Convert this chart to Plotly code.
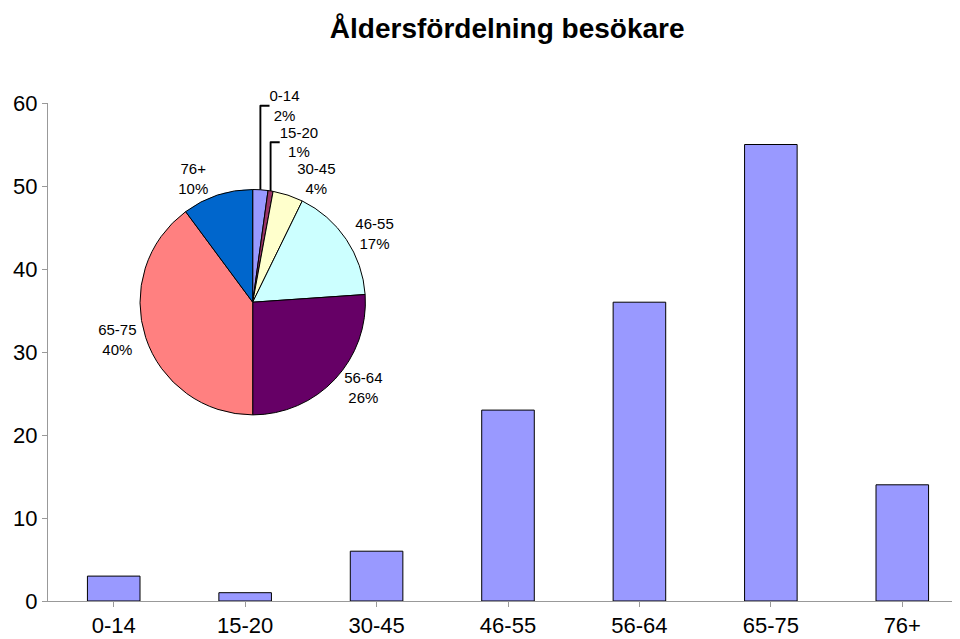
import plotly.graph_objects as go

categories = ["0-14", "15-20", "30-45", "46-55", "56-64", "65-75", "76+"]
values = [3, 1, 6, 23, 36, 55, 14]
pie_colors = ["#9999FF", "#993366", "#FFFFCC", "#CCFFFF", "#660066", "#FF8080", "#0066CC"]

fig = go.Figure()
fig.add_bar(x=categories, y=values, marker=dict(color="#9999FF", line=dict(color="black", width=1)), showlegend=False)
fig.add_pie(labels=categories, values=values, sort=False, direction="clockwise", rotation=0,
            marker=dict(colors=pie_colors, line=dict(color="black", width=1)),
            textposition="outside", texttemplate="%{label}<br>%{percent:.0%}",
            textfont=dict(size=15, color="black"), showlegend=False,
            domain=dict(x=[0.10, 0.345], y=[0.37, 0.83]))
fig.update_layout(
    width=960, height=639, paper_bgcolor="white", plot_bgcolor="white",
    margin=dict(l=40, r=0, t=95, b=46, autoexpand=False),
    font=dict(family="Liberation Sans, Arial", color="black"),
    title=dict(text="<b>Åldersfördelning besökare</b>", x=0.52, y=0.968, yanchor="middle", font=dict(size=28)),
    bargap=0.6,
    xaxis=dict(showline=True, linecolor="#999", ticks="outside", tickcolor="#999", tickfont=dict(size=22), automargin=False),
    yaxis=dict(range=[0, 60], dtick=10, showline=True, linecolor="#999", ticks="outside", tickcolor="#999",
               showgrid=False, tickfont=dict(size=22), zeroline=False, automargin=False),
)
fig.write_html("out.html")
